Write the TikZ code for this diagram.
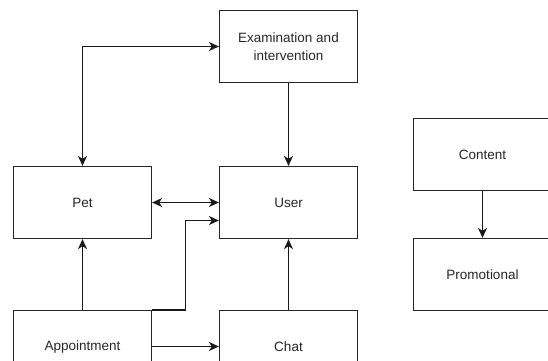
\documentclass[tikz,border=0pt]{standalone}
\usepackage{fontspec}
\setmainfont{Liberation Sans}
\usetikzlibrary{arrows.meta}
\begin{document}
\begin{tikzpicture}[x=1pt,y=-1pt,
  box/.style={draw=black!85,line width=1.2pt,minimum width=138pt,minimum height=72pt,inner sep=0pt,align=center,font=\fontsize{13.5}{18}\selectfont,text=black!85},
  conn/.style={draw=black!90,line width=1.2pt,arrows={-Stealth[length=10pt,width=9pt,inset=3pt]}},
  biconn/.style={draw=black!90,line width=1.2pt,arrows={Stealth[length=10pt,width=9pt,inset=3pt]-Stealth[length=10pt,width=9pt,inset=3pt]}}]
\useasboundingbox (0,0) rectangle (548,360);
\clip (0,0) rectangle (548,360);
\node[box] (exam) at (288.5,46.5) {Examination and\\intervention};
\node[box] (pet) at (82.5,202.5) {Pet};
\node[box] (user) at (288.5,202.5) {User};
\node[box] (appt) at (82.5,346.5) {Appointment};
\node[box] (chat) at (288.5,346.5) {Chat};
\node[box] (content) at (482.5,154.5) {Content};
\node[box] (promo) at (482.5,274.5) {Promotional};
\draw[biconn] (pet.north) |- (exam.west);
\draw[conn] (exam) -- (user);
\draw[biconn] (pet) -- (user);
\draw[conn] (appt) -- (pet);
\draw[conn] (appt.north east) -- ++(33,0) |- ([yshift=-18pt]user.west);
\draw[conn] (appt) -- (chat);
\draw[conn] (chat) -- (user);
\draw[conn] (content) -- (promo);
\end{tikzpicture}
\end{document}
